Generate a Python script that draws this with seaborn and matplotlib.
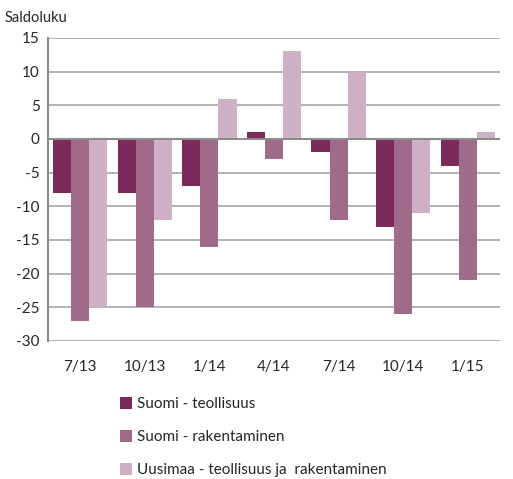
import matplotlib
matplotlib.use("Agg")
import matplotlib.pyplot as plt
import seaborn as sns
import pandas as pd
from matplotlib.patches import Patch

categories = ["7/13", "10/13", "1/14", "4/14", "7/14", "10/14", "1/15"]
series = ["Suomi - teollisuus", "Suomi - rakentaminen",
          "Uusimaa - teollisuus ja  rakentaminen"]
teollisuus = [-8, -8, -7, 1, -2, -13, -4]
rakentaminen = [-27, -25, -16, -3, -12, -26, -21]
uusimaa = [-25, -12, 6, 13, 10, -11, 1]
colors = ["#7b2a5a", "#a06a8a", "#cfb1c5"]

rows = []
for name, vals in zip(series, [teollisuus, rakentaminen, uusimaa]):
    for c, v in zip(categories, vals):
        rows.append({"kausi": c, "sarja": name, "arvo": v})
df = pd.DataFrame(rows)

sns.set_style("white")
plt.rcParams["font.family"] = ["Lato", "DejaVu Sans"]
plt.rcParams["axes.unicode_minus"] = False

fig = plt.figure(figsize=(5.13, 4.79), dpi=100)
ax = fig.add_axes([48 / 513, 1 - 341 / 479, 452 / 513, 303 / 479])
sns.barplot(data=df, x="kausi", y="arvo", hue="sarja", palette=colors,
            width=0.84, gap=0, saturation=1, ax=ax, legend=False,
            edgecolor="none", linewidth=0)

ax.set_ylim(-30, 15)
ax.set_yticks(range(-30, 16, 5))
ax.set_xlim(-0.5, len(categories) - 0.5)
ax.yaxis.grid(True, color="#a6a6a6", linewidth=1.2)
ax.set_axisbelow(True)
ax.axhline(0, color="#8c8c8c", linewidth=1.5, zorder=3)
for s in ["top", "right", "bottom"]:
    ax.spines[s].set_visible(False)
ax.spines["left"].set_color("#8c8c8c")
ax.spines["left"].set_linewidth(1.5)
ax.tick_params(axis="both", length=0, labelsize=11)
ax.tick_params(axis="x", pad=14)
ax.tick_params(axis="y", pad=6)
ax.set_xlabel("")
ax.set_ylabel("")

fig.text(5 / 513, 1 - 18 / 479, "Saldoluku", fontsize=10.5, va="center")

handles = [Patch(facecolor=c, edgecolor="none") for c in colors]
fig.legend(handles, series, loc="upper left", bbox_to_anchor=(106 / 513, 1 - 383 / 479),
           frameon=False, fontsize=11, handlelength=0.8, handleheight=0.9,
           handletextpad=0.3, labelspacing=1.2)

fig.savefig("out.png", dpi=100)
